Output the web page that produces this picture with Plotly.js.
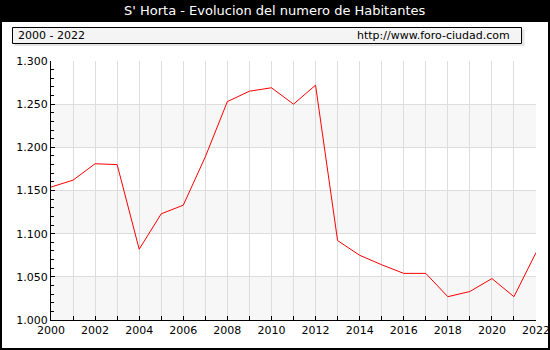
<!DOCTYPE html>
<html><head><meta charset="utf-8">
<script src="https://cdn.plot.ly/plotly-3.0.1.min.js"></script>
<style>html,body{margin:0;padding:0;background:#fff}#c{width:550px;height:350px}</style>
</head><body><div id="c"></div>
<script>
const years = [2000,2001,2002,2003,2004,2005,2006,2007,2008,2009,2010,2011,2012,2013,2014,2015,2016,2017,2018,2019,2020,2021,2022];
const habitantes = [1154,1162,1181,1180,1082,1123,1133,1189,1253,1265,1269,1250,1272,1092,1075,1064,1054,1054,1027,1033,1048,1027,1078];
const xTickLabels = years.map(y => (y % 2 === 0 ? String(y) : ''));
const yTicks = [1000,1050,1100,1150,1200,1250,1300];
const titleText = "S' Horta - Evolucion del numero de Habitantes";
const periodText = "2000 - 2022";
const sourceText = "http://www.foro-ciudad.com";

const W = 550, H = 350, L = 51, R = 14, T = 61, B = 30;
const pw = W - L - R, ph = H - T - B;
const px = x => (x - L) / pw;
const py = y => (H - B - y) / ph;

const shapes = [];
for (let i = 0; i < yTicks.length - 1; i++) {
  if (i % 2 === 0) {
    shapes.push({type:'rect', xref:'paper', yref:'y', x0:0, x1:1, y0:yTicks[i], y1:yTicks[i+1],
      fillcolor:'#f7f7f7', line:{width:0}, layer:'below'});
  }
}
shapes.push({type:'rect', xref:'paper', yref:'paper', x0:px(0), x1:px(W), y0:py(22), y1:py(0),
  fillcolor:'#000', line:{width:0}});
shapes.push({type:'rect', xref:'paper', yref:'paper', x0:px(1), x1:px(W-1), y0:py(H-1), y1:py(1),
  fillcolor:'rgba(0,0,0,0)', line:{color:'#000', width:2}});
shapes.push({type:'rect', xref:'paper', yref:'paper', x0:px(14.5), x1:px(524.5), y0:py(46), y1:py(29.5),
  fillcolor:'#e4e4e4', line:{width:0}});
shapes.push({type:'rect', xref:'paper', yref:'paper', x0:px(12.5), x1:px(521.5), y0:py(43.5), y1:py(27.5),
  fillcolor:'#f4f4f4', line:{color:'#000', width:1}});

const font = {family:'DejaVu Sans, Verdana, sans-serif', size:11, color:'#000'};

const annotations = [
  {xref:'paper', yref:'paper', x:px(275), y:py(11), text:titleText, showarrow:false,
   xanchor:'center', yanchor:'middle', font:{family:font.family, size:13, color:'#fff'}},
  {xref:'paper', yref:'paper', x:px(16), y:py(35.5), text:periodText, showarrow:false,
   xanchor:'left', yanchor:'middle', font:font},
  {xref:'paper', yref:'paper', x:px(512), y:py(35.5), text:sourceText, showarrow:false,
   xanchor:'right', yanchor:'middle', font:font}
];

const trace = {x:years, y:habitantes, type:'scatter', mode:'lines',
  line:{color:'#ff0000', width:1}, hoverinfo:'skip'};

const layout = {
  width:W, height:H, margin:{l:L, r:R, t:T, b:B, pad:0},
  paper_bgcolor:'#fff', plot_bgcolor:'rgba(0,0,0,0)',
  separators:',.',
  showlegend:false, font:font,
  xaxis:{range:[2000,2022], tickvals:years, ticktext:xTickLabels, ticks:'inside', ticklen:4,
    tickcolor:'#000', showgrid:true, gridcolor:'#dddddd', gridwidth:1, showline:true,
    linecolor:'#000', linewidth:1, zeroline:false, tickfont:font, fixedrange:true},
  yaxis:{range:[1000,1300], tickvals:yTicks, tickformat:',d', ticks:'inside', ticklen:4,
    tickcolor:'#000', showgrid:true, gridcolor:'#dddddd', gridwidth:1, showline:true,
    linecolor:'#000', linewidth:1, zeroline:false, tickfont:font, fixedrange:true,
    minor:{dtick:10, ticks:'inside', ticklen:3, tickcolor:'#000', showgrid:false}},
  shapes:shapes, annotations:annotations
};

Plotly.newPlot('c', [trace], layout, {staticPlot:true, displayModeBar:false});
</script></body></html>
